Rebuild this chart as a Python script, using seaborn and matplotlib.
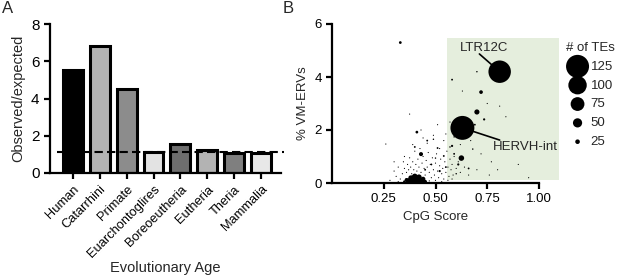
import numpy as np
import pandas as pd
import matplotlib
matplotlib.use("Agg")
import matplotlib.pyplot as plt
from matplotlib.patches import Rectangle
import seaborn as sns

# ---------------- data ----------------
ages = ["Human", "Catarrhini", "Primate", "Euarchontoglires",
        "Boreoeutheria", "Eutheria", "Theria", "Mammalia"]
obs_exp = [5.53, 6.8, 4.5, 1.15, 1.57, 1.23, 1.1, 1.1]
bar_colors = ["#000000", "#b3b3b3", "#8c8c8c", "#e3e3e3",
              "#6e6e6e", "#b3b3b3", "#7f7f7f", "#e8e8e8"]
expected_line = 1.12

# named TEs
named_te = ["LTR12C", "HERVH-int"]
named_cpg = [0.81, 0.63]
named_pct = [4.2, 2.08]
named_n = [122, 130]

# other TEs: cpg score, % VM-ERVs, # of TEs
cpg_score = [
    # dense cluster
    0.37, 0.39, 0.41, 0.43, 0.40, 0.38, 0.42, 0.44, 0.36, 0.405, 0.45, 0.35,
    # visible small points
    0.33, 0.70, 0.72, 0.625, 0.43, 0.41, 0.735, 0.69, 0.70, 0.58, 0.58, 0.59,
    0.68, 0.46, 0.49, 0.51, 0.40, 0.50, 0.54, 0.57, 0.59, 0.61, 0.55, 0.48,
    0.52, 0.45, 0.60, 0.66,
    # specks
    0.30, 0.31, 0.32, 0.33, 0.34, 0.35, 0.345, 0.36, 0.365, 0.37, 0.375, 0.38,
    0.385, 0.39, 0.395, 0.40, 0.405, 0.41, 0.415, 0.42, 0.425, 0.43, 0.435, 0.44,
    0.445, 0.45, 0.455, 0.46, 0.465, 0.47, 0.475, 0.48, 0.485, 0.49, 0.495, 0.50,
    0.505, 0.51, 0.515, 0.52, 0.525, 0.53, 0.535, 0.54, 0.545, 0.55, 0.555, 0.56,
    0.565, 0.57, 0.575, 0.58, 0.585, 0.59, 0.60, 0.61, 0.62, 0.64, 0.66, 0.70,
    0.76, 0.80, 0.26, 0.375, 0.51, 0.84, 0.63, 0.77, 0.28, 0.32, 0.47, 0.50,
    0.53, 0.56, 0.58, 0.46, 0.49, 0.54, 0.57, 0.60, 0.44, 0.52, 0.35, 0.30,
    0.72, 0.67, 0.81, 0.75, 0.90, 0.95, 0.39, 0.43, 0.62, 0.55,
]
pct_vm_ervs = [
    0.08, 0.15, 0.12, 0.08, 0.25, 0.20, 0.22, 0.15, 0.12, 0.05, 0.05, 0.05,
    5.3, 2.68, 3.43, 0.94, 1.09, 1.92, 2.4, 2.2, 4.2, 3.9, 1.4, 1.1,
    1.28, 1.6, 1.65, 1.32, 1.36, 0.94, 1.02, 1.36, 1.74, 0.7, 0.6, 0.7,
    0.45, 0.5, 0.35, 0.55,
    0.45, 0.25, 0.6, 0.15, 0.35, 0.55, 0.8, 0.4, 0.7, 0.5, 0.95, 0.6,
    0.35, 0.8, 0.5, 1.2, 0.7, 0.45, 0.9, 0.6, 1.3, 0.4, 0.75, 1.0,
    0.55, 0.3, 0.85, 0.6, 1.15, 0.4, 0.7, 0.2, 0.95, 0.5, 0.3, 0.75,
    1.1, 0.45, 0.2, 0.65, 0.9, 0.35, 0.55, 0.15, 0.8, 0.4, 1.2, 0.6,
    0.25, 0.9, 0.5, 0.7, 0.3, 1.0, 0.55, 0.8, 0.4, 0.6, 0.3, 0.5,
    0.3, 0.5, 1.47, 2.6, 2.2, 2.5, 3.47, 0.8, 0.1, 0.05, 0.08, 0.1,
    0.05, 0.1, 0.15, 1.5, 1.8, 1.6, 2.3, 1.9, 1.7, 1.3, 1.0, 0.8,
    1.1, 1.6, 2.9, 3.0, 0.7, 0.2, 1.45, 2.0, 1.45, 1.85,
]
n_tes = [
    30, 40, 45, 35, 30, 25, 30, 25, 20, 40, 20, 15,
    15, 28, 20, 30, 22, 15, 12, 10, 8, 10, 12, 10,
    8, 10, 8, 10, 10, 8, 10, 8, 8, 12, 10, 10,
    12, 10, 8, 10,
    3, 3, 4, 3, 5, 3, 3, 4, 3, 5, 3, 4,
    3, 4, 3, 3, 5, 3, 4, 3, 3, 5, 3, 4,
    3, 4, 3, 5, 3, 4, 3, 3, 4, 5, 3, 4,
    3, 4, 3, 5, 3, 4, 3, 3, 4, 3, 3, 5,
    3, 4, 3, 5, 3, 4, 3, 5, 3, 4, 3, 3,
    3, 3, 4, 3, 3, 3, 4, 3, 3, 3, 4, 3,
    3, 4, 3, 3, 4, 3, 3, 4, 3, 3, 3, 3,
    3, 3, 3, 3, 3, 3, 3, 3, 3, 3,
]
legend_counts = [125, 100, 75, 50, 25]

# ---------------- style ----------------
sns.set_style("ticks")
plt.rcParams["font.family"] = ["Liberation Sans", "DejaVu Sans"]
plt.rcParams["axes.linewidth"] = 1.6
plt.rcParams["xtick.major.width"] = 1.6
plt.rcParams["ytick.major.width"] = 1.6
plt.rcParams["xtick.major.size"] = 4
plt.rcParams["ytick.major.size"] = 4
plt.rcParams["xtick.color"] = "black"
plt.rcParams["ytick.color"] = "black"
plt.rcParams["axes.edgecolor"] = "black"

W, H = 617, 277
fig = plt.figure(figsize=(W / 100, H / 100), dpi=100)

def px_axes(l, t, r, b):
    return fig.add_axes([l / W, 1 - b / H, (r - l) / W, (b - t) / H])

# ---------------- panel A ----------------
axA = px_axes(50, 24, 281, 173)
dfA = pd.DataFrame({"age": ages, "ratio": obs_exp})
sns.barplot(data=dfA, x="age", y="ratio", hue="age", palette=bar_colors,
            legend=False, edgecolor="black", linewidth=2.2, width=0.74,
            saturation=1, ax=axA)
axA.hlines(expected_line, -0.6, 7.85, colors="black", linestyles=(0, (4, 2)),
           linewidth=1.5, clip_on=False, zorder=5)
axA.set_xlim(-0.86, 7.75)
axA.set_ylim(0, 8)
axA.set_yticks([0, 2, 4, 6, 8])
axA.tick_params(axis="y", labelsize=11)
axA.tick_params(axis="x", labelsize=9.3)
plt.setp(axA.get_xticklabels(), rotation=45, ha="right", rotation_mode="anchor")
axA.set_xlabel("Evolutionary Age", fontsize=10.5)
axA.xaxis.set_label_coords(0.5, (173 - 261) / 149)
axA.set_ylabel("Observed/expected", fontsize=10.5, labelpad=4)
sns.despine(ax=axA)

# ---------------- panel B ----------------
axB = px_axes(332, 24, 539, 183)
axB.add_patch(Rectangle((0.557, 0.1), 1.096 - 0.557, 5.47 - 0.1,
                        facecolor="#e5eedd", edgecolor="none",
                        clip_on=False, zorder=0))

def area(v):
    d_pt = 0.184 * v * 0.72
    return max(d_pt * d_pt, 0.7)

dfB = pd.DataFrame({"cpg": cpg_score + named_cpg,
                    "pct": pct_vm_ervs + named_pct,
                    "n": n_tes + named_n})
size_map = {v: area(v) for v in sorted(set(dfB["n"]))}
sns.scatterplot(data=dfB, x="cpg", y="pct", size="n", sizes=size_map,
                color="black", edgecolor="none", linewidth=0, legend=False,
                ax=axB, zorder=3)

axB.set_xlim(0, 1.0)
axB.set_ylim(0, 6)
axB.set_xticks([0.25, 0.5, 0.75, 1.0])
axB.set_xticklabels(["0.25", "0.50", "0.75", "1.00"])
axB.set_yticks([0, 2, 4, 6])
axB.tick_params(labelsize=9.5)
axB.set_xlabel("CpG Score", fontsize=9.5, labelpad=4)
axB.set_ylabel("% VM-ERVs", fontsize=9.5, labelpad=4)
sns.despine(ax=axB)

# annotations: leader lines then labels
axB.annotate("", xy=(named_cpg[0], named_pct[0]), xytext=(0.712, 4.87),
             arrowprops=dict(arrowstyle="-", color="black", lw=1.2,
                             shrinkA=0, shrinkB=0), zorder=6)
axB.text(0.735, 5.1, named_te[0], ha="center", va="center", fontsize=9.5,
         zorder=6)
axB.annotate("", xy=(named_cpg[1], named_pct[1]), xytext=(0.81, 1.62),
             arrowprops=dict(arrowstyle="-", color="black", lw=1.2,
                             shrinkA=0, shrinkB=0), zorder=6)
axB.text(0.935, 1.36, named_te[1], ha="center", va="center", fontsize=9.5,
         zorder=6)

# size legend
handles = [axB.scatter([], [], s=area(v), color="black", edgecolor="none")
           for v in legend_counts]
leg = fig.legend(handles, [str(v) for v in legend_counts], title="# of TEs",
                 loc="upper left", bbox_to_anchor=(566 / W, 1 - 42 / H),
                 frameon=False, fontsize=9.5, title_fontsize=9.5,
                 borderpad=0, borderaxespad=0, handlelength=1.75,
                 handletextpad=0.12, labelspacing=0.5, scatterpoints=1,
                 alignment="left")

# panel letters
fig.text(2 / W, 1 - 1 / H, "A", fontsize=12, va="top", ha="left")
fig.text(283 / W, 1 - 1 / H, "B", fontsize=12, va="top", ha="left")

fig.savefig("out.png", dpi=100)
